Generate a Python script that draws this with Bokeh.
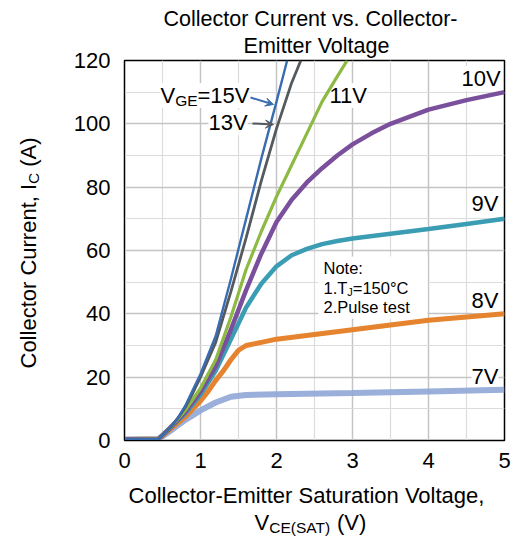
import math
from bokeh.plotting import figure
from bokeh.models import Range1d, FixedTicker, Label, Arrow, VeeHead, BoxAnnotation
from bokeh.core.properties import value
from bokeh.embed import file_html
from bokeh.resources import INLINE

# ---------------- data ----------------
vce_15 = [0, 0.45, 0.6, 0.7, 0.8, 0.9, 1.0, 1.1, 1.2, 1.4, 1.6, 1.8, 2.0, 2.14]
ic_15 = [0.3, 0.5, 4, 7, 11, 16, 21, 27, 33, 51, 70, 89, 107, 120]

vce_13 = [0, 0.45, 0.6, 0.7, 0.8, 0.9, 1.0, 1.1, 1.2, 1.4, 1.6, 1.8, 2.0, 2.2, 2.32]
ic_13 = [0.3, 0.5, 4, 7, 10.5, 15, 20, 25.5, 31, 47, 64, 82, 98.5, 113, 120]

vce_11 = [0, 0.45, 0.6, 0.8, 1.0, 1.2, 1.4, 1.6, 1.8, 2.0, 2.2, 2.4, 2.6, 2.8, 2.93]
ic_11 = [0.3, 0.5, 4, 9.5, 16.5, 25.5, 39, 54, 66, 77, 87, 97, 107, 115, 120]

vce_10 = [0, 0.45, 0.6, 0.8, 1.0, 1.2, 1.4, 1.6, 1.8, 2.0, 2.2, 2.4, 2.6, 2.8, 3.0, 3.25, 3.5, 4.0, 4.5, 5.0]
ic_10 = [0.3, 0.5, 4, 9, 15.5, 23.5, 35, 47.5, 59, 69, 76, 81.5, 86, 90, 93.5, 97, 100, 104.5, 107.5, 110]

vce_9 = [0, 0.45, 0.6, 0.8, 1.0, 1.2, 1.4, 1.6, 1.8, 2.0, 2.2, 2.4, 2.6, 2.8, 3.0, 3.5, 4.0, 4.5, 5.0]
ic_9 = [0.3, 0.5, 4, 8.5, 14.5, 22, 32, 42, 49.5, 55, 58.5, 60.5, 62, 63, 63.8, 65.3, 66.8, 68.4, 70]

vce_8 = [0, 0.45, 0.6, 0.8, 1.0, 1.1, 1.2, 1.3, 1.4, 1.5, 1.6, 1.8, 2.0, 2.5, 3.0, 3.5, 4.0, 4.5, 5.0]
ic_8 = [0.3, 0.5, 3.5, 7.5, 12.5, 15.5, 19, 22, 25.5, 28.5, 30, 31, 32, 33.5, 35, 36.5, 38, 39, 40]

vce_7 = [0, 0.45, 0.6, 0.8, 1.0, 1.2, 1.4, 1.6, 2.0, 3.0, 4.0, 5.0]
ic_7 = [0.3, 0.5, 3, 6.5, 9.5, 12, 13.8, 14.4, 14.6, 15, 15.5, 16]

x_ticks = [0, 1, 2, 3, 4, 5]
y_ticks = [0, 20, 40, 60, 80, 100, 120]
x_minor = [0.5, 1.5, 2.5, 3.5, 4.5]
y_minor = [10, 30, 50, 70, 90, 110]

FONT = "Liberation Sans"

p = figure(width=516, height=536, output_backend="svg", toolbar_location=None,
           x_range=Range1d(0, 5), y_range=Range1d(0, 120), title=None)
p.min_border_left = 124
p.min_border_right = 12
p.min_border_top = 60
p.min_border_bottom = 96
p.background_fill_color = "white"
p.border_fill_color = "white"
p.outline_line_color = "black"
p.outline_line_width = 1.5

xt = FixedTicker(ticks=x_ticks, minor_ticks=x_minor)
yt = FixedTicker(ticks=y_ticks, minor_ticks=y_minor)
p.xaxis.ticker = xt
p.yaxis.ticker = yt
p.xgrid.ticker = xt
p.ygrid.ticker = yt
for g in (p.xgrid, p.ygrid):
    g.grid_line_color = "#c4c4c4"
    g.grid_line_width = 1.5
    g.minor_grid_line_color = "#dcdcdc"
    g.minor_grid_line_width = 1.2
for ax in (p.xaxis, p.yaxis):
    ax.major_tick_out = 0
    ax.major_tick_in = 0
    ax.minor_tick_out = 0
    ax.minor_tick_in = 0
    ax.axis_line_color = "black"
    ax.major_label_text_font = FONT
    ax.major_label_text_font_size = "22px"
    ax.major_label_text_color = "black"
p.yaxis.major_label_standoff = 14
p.xaxis.major_label_standoff = 12

# ---------------- curves ----------------
p.line(vce_7, ic_7, line_color="#8fa6d6", line_width=6, line_alpha=0.9)
p.line(vce_8, ic_8, line_color="#e6832e", line_width=5)
p.line(vce_9, ic_9, line_color="#3b9db3", line_width=4.5)
p.line(vce_10, ic_10, line_color="#7a4f9c", line_width=4.5)
p.line(vce_11, ic_11, line_color="#8dba43", line_width=3.2)
p.line(vce_13, ic_13, line_color="#555a5f", line_width=2.8)
p.line(vce_15, ic_15, line_color="#3a6cb0", line_width=2.4)

# ---------------- helpers: reference-pixel -> data ----------------
def dx(px):
    return (px - 124) / 76.0

def dy(py):
    return (440 - py) / (380.0 / 120.0)

# py below = vertical centre of the text as drawn
def lab(text, px, py, size=22, align="left", bg=None):
    kw = dict(x=dx(px), y=dy(py), text=text, text_font=FONT, text_font_size=f"{size}px",
              text_align=align, text_baseline="alphabetic", text_color="black",
              level="underlay")
    if bg:
        kw["background_fill_color"] = bg
        kw["background_fill_alpha"] = 1.0
    l = Label(**kw)
    p.add_layout(l)
    return l

# texts outside the frame: text glyphs anchored at the frame centre, offset in pixels
CX, CY = 314, 250
def otext(text, px, py, size=22, align="left", angle=0.0):
    p.text(x=[dx(CX)], y=[dy(CY)], text=[text], x_offset=[px - CX], y_offset=[py - CY],
           angle=angle, text_font=value(FONT), text_font_size=value(f"{size}px"),
           text_align=align, text_baseline="alphabetic", text_color="black",
           level="overlay")

# note box
p.add_layout(BoxAnnotation(left=dx(318), right=dx(427), top=dy(256), bottom=dy(318),
                           fill_color="white", fill_alpha=1.0, line_alpha=0, level="underlay"))

# curve labels
lab("V", 160, 95, bg="white")
lab("GE", 174.7, 100, size=15.5, bg="white")
lab("=15V", 197, 95, bg="white")
lab("13V", 208, 122, bg="white")
lab("11V", 329, 95, bg="white")
lab("10V", 461, 78, bg="white")
lab("9V", 471, 203, bg="white")
lab("8V", 471, 300, bg="white")
lab("7V", 471, 376, bg="white")

p.add_layout(Arrow(end=VeeHead(size=8, line_color="#3a6cb0", fill_color="#3a6cb0"),
                   x_start=dx(250), y_start=dy(97), x_end=dx(273), y_end=dy(104),
                   line_color="#3a6cb0", line_width=2))
p.add_layout(Arrow(end=VeeHead(size=8, line_color="#555a5f", fill_color="#555a5f"),
                   x_start=dx(252), y_start=dy(123), x_end=dx(273), y_end=dy(124),
                   line_color="#555a5f", line_width=2))

# note
lab("Note:", 323, 267, size=16.5)
lab("1.T", 323, 287, size=16.5)
lab("J", 346.8, 291, size=11)
lab("=150\u00b0C", 352.3, 287, size=16.5)
lab("2.Pulse test", 323, 306, size=16.5)

# title
otext("Collector Current vs. Collector-", 310, 18, size=21.5, align="center")
otext("Emitter Voltage", 316, 45, size=21.5, align="center")

# x axis label
otext("Collector-Emitter Saturation Voltage,", 306, 495, align="center")
otext("V", 254, 522)
otext("CE(SAT)", 268.7, 527, size=15.5)
otext("(V)", 336.5, 522)

# y axis label (rotated)
ang = math.pi / 2
otext("Collector Current, I", 28, 368, angle=ang)
otext("C", 33, 183.4, size=15.5, angle=ang)
otext("(A)", 28, 166.3, angle=ang)

open("out.html", "w").write(file_html(p, INLINE))
